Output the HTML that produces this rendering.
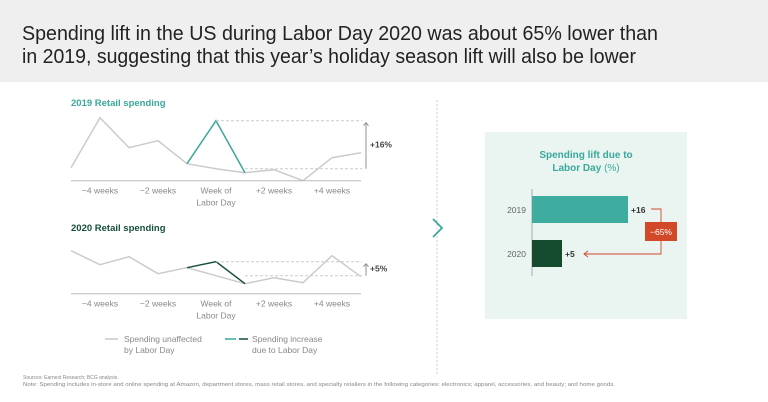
<!DOCTYPE html>
<html><head><meta charset="utf-8"><style>
html,body{margin:0;padding:0;background:#fff}
svg{display:block;font-family:"Liberation Sans",sans-serif}
</style></head><body>
<svg id="s" width="768" height="402" viewBox="0 0 768 402" xmlns="http://www.w3.org/2000/svg">
<rect x="0" y="0" width="768" height="82" fill="#efefef"/>
<text x="22" y="40" font-size="20" fill="#222" textLength="636" lengthAdjust="spacingAndGlyphs">Spending lift in the US during Labor Day 2020 was about 65% lower than</text>
<text x="22" y="63" font-size="20" fill="#222" textLength="614" lengthAdjust="spacingAndGlyphs">in 2019, suggesting that this year’s holiday season lift will also be lower</text>

<text x="71" y="106" font-size="9.5" font-weight="bold" fill="#3aa89a">2019 Retail spending</text>
<text x="71" y="231" font-size="9.5" font-weight="bold" fill="#16503a">2020 Retail spending</text>
<g id="c1"></g>
<g id="c2"></g>

<line x1="437" y1="100" x2="437" y2="376" stroke="#ccc" stroke-dasharray="2,2"/>
<polyline points="433,219 442,228 433,237" fill="none" stroke="#3aa89a" stroke-width="1.8"/>

<g>
<line x1="105" y1="339" x2="118" y2="339" stroke="#c8c8c8" stroke-width="1.5"/>
<text x="124" y="342" font-size="8.5" fill="#888"><tspan x="124">Spending unaffected</tspan><tspan x="124" dy="11">by Labor Day</tspan></text>
<line x1="225" y1="339" x2="236" y2="339" stroke="#3aa89a" stroke-width="1.5"/>
<line x1="239" y1="339" x2="248" y2="339" stroke="#16503a" stroke-width="1.5"/>
<text x="252" y="342" font-size="8.5" fill="#888"><tspan x="252">Spending increase</tspan><tspan x="252" dy="11">due to Labor Day</tspan></text>
</g>

<text x="23" y="379" font-size="5" fill="#888">Sources: Earnest Research; BCG analysis.</text>
<text x="23" y="386" font-size="5" fill="#888" textLength="592" lengthAdjust="spacingAndGlyphs">Note: Spending includes in-store and online spending at Amazon, department stores, mass retail stores, and specialty retailers in the following categories: electronics; apparel, accessories, and beauty; and home goods.</text>

<rect x="485" y="132" width="202" height="187" fill="#eaf5f2"/>
<text x="586" y="158" font-size="10" font-weight="bold" fill="#3aa89a" text-anchor="middle"><tspan x="586">Spending lift due to</tspan><tspan x="586" dy="13">Labor Day <tspan font-weight="normal">(%)</tspan></tspan></text>
<g id="c3"></g>
</svg>
<script>
var NS="http://www.w3.org/2000/svg";
var weeks=["−4 weeks","−2 weeks","Week of|Labor Day","+2 weeks","+4 weeks"];
var base2019=[13,63,33,40,17,null,8,11,0,23,28];
var s2019=[17,60,8];
var mid2019=12;
var base2020=[43,29,37,20,26,null,10,16,11,38,17];
var s2020=[26,32,10];
var mid2020=18;
var lift=[16,5];
var years=["2019","2020"];
var changeLabel="−65%";
function el(t,a,p){var e=document.createElementNS(NS,t);for(var k in a)e.setAttribute(k,a[k]);p.appendChild(e);return e;}
function line(g,cfg){
  var x=function(i){return 71+i*29;};
  var y=function(v){return cfg.axis-v;};
  var b=cfg.base.slice();b[5]=cfg.mid;
  var pts=b.map(function(v,i){return x(i)+","+y(v);}).join(" ");
  var p=el("polyline",{points:pts,fill:"none",stroke:"#cbcbcb","stroke-width":1.5},g);
  
  
  var sp=[x(4)+","+y(cfg.spike[0]),x(5)+","+y(cfg.spike[1]),x(6)+","+y(cfg.spike[2])].join(" ");
  var q=el("polyline",{points:sp,fill:"none",stroke:cfg.color,"stroke-width":1.5},g);
  
  
  var ax=el("line",{x1:71,x2:361,y1:cfg.axis,y2:cfg.axis,stroke:"#bbb","stroke-width":1},g);
  
  
  var yt=y(cfg.spike[1]);
  var d1=el("line",{x1:x(5),x2:362,y1:yt,y2:yt,stroke:"#ccc","stroke-dasharray":"3,2"},g);
  
  
  var yb=y(cfg.mid);
  var d2=el("line",{x1:x(6),x2:362,y1:yb,y2:yb,stroke:"#ccc","stroke-dasharray":"3,2"},g);
  
  
  var ar=el("path",{d:"M366 "+yb+" V"+(yt+2)+" M363.5 "+(yt+5)+" L366 "+(yt+2)+" L368.5 "+(yt+5),fill:"none",stroke:"#888","stroke-width":0.9},g);
  
  
  var lt=el("text",{x:370,y:(yt+yb)/2+3,"font-size":8.5,fill:"#444","font-weight":"bold"},g);
  lt.textContent=cfg.label;
  
  
  weeks.forEach(function(w,i){
    var t=el("text",{x:x(1+2*i),y:cfg.axis+13,"font-size":8.5,fill:"#888","text-anchor":"middle"},g);
    
    
    w.split("|").forEach(function(s,k){var ts=el("tspan",{x:x(1+2*i),dy:k?12:0},t);ts.textContent=s;});
  });
}
line(document.getElementById("c1"),{base:base2019,mid:mid2019,spike:s2019,color:"#3aa89a",axis:180.7,label:"+"+lift[0]+"%"});
line(document.getElementById("c2"),{base:base2020,mid:mid2020,spike:s2020,color:"#16503a",axis:293.7,label:"+"+lift[1]+"%"});
var g3=document.getElementById("c3");
var bx=function(v){return 532+v*6;};
var barY=[196,240], cols=["#3eada0","#144a2e"];
var axl=el("line",{x1:532,x2:532,y1:189,y2:276,stroke:"#999","stroke-width":0.8},g3);


lift.forEach(function(v,i){
  var r=el("rect",{x:532,y:barY[i],width:bx(v)-532,height:27,fill:cols[i]},g3);
  
  
  var yl=el("text",{x:526,y:barY[i]+17,"font-size":8.5,fill:"#666","text-anchor":"end"},g3);
  yl.textContent=years[i];
  
  
  var vl=el("text",{x:bx(v)+3,y:barY[i]+17,"font-size":8.5,fill:"#333","font-weight":"bold"},g3);
  vl.textContent="+"+v;
  
  
});
var cn=el("path",{d:"M651 209 H661 V222 M661 241 V254 H584 M588 251 L584 254 L588 257",fill:"none",stroke:"#d2492a","stroke-width":0.9},g3);


var bxr=el("rect",{x:645,y:222,width:32,height:19,fill:"#d2492a"},g3);


var bt=el("text",{x:661,y:235,"font-size":8.5,fill:"#fff","text-anchor":"middle"},g3);
bt.textContent=changeLabel;


</script>
</body></html>
